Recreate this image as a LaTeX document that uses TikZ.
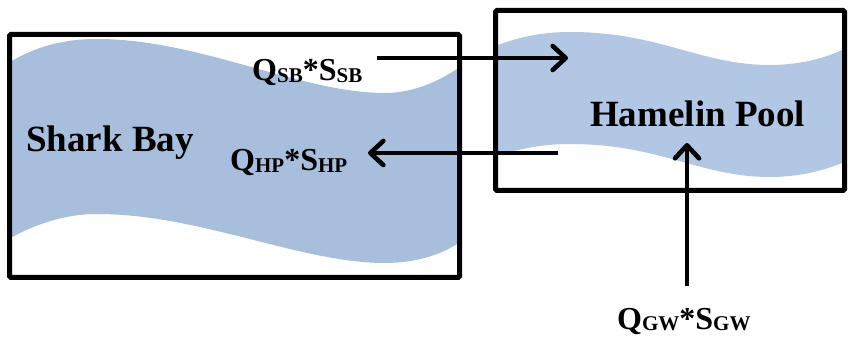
\documentclass[tikz,border=0pt]{standalone}
\usepackage{fontspec}
\setmainfont{Liberation Serif}
\usetikzlibrary{arrows.meta}
\definecolor{sbblue}{RGB}{167,191,221}
\definecolor{hpblue}{RGB}{177,199,227}
\newcommand{\lowsub}[1]{\raisebox{-1.5pt}{\fontsize{21}{21}\selectfont #1}}
\tikzset{
  basin/.style={draw=black, line width=5pt, rounded corners=1.5pt},
  flux/.style={draw=black, line width=4.6pt, -{Straight Barb[length=13pt,width=24pt,line width=4.6pt,round]}},
  lbl/.style={inner sep=0pt, anchor=base west, font=\bfseries\fontsize{37}{37}\selectfont},
  qlbl/.style={inner sep=0pt, anchor=base west, font=\bfseries\fontsize{32}{32}\selectfont}
}
\begin{document}
\begin{tikzpicture}[x=1pt,y=-1pt]
\useasboundingbox (0,0) rectangle (849,339);
% Shark Bay water
\fill[sbblue] (7,64) .. controls (35,46) and (65,39) .. (97,39)
  .. controls (200,39) and (300,93) .. (385,93)
  .. controls (415,93) and (440,80) .. (457,69)
  -- (457,244) .. controls (440,255) and (415,263) .. (385,263)
  .. controls (300,263) and (200,214) .. (97,214)
  .. controls (65,214) and (35,224) .. (7,240) -- cycle;
% Hamelin Pool water
\fill[hpblue] (493,47) .. controls (515,38) and (540,32) .. (570,32)
  .. controls (660,32) and (700,65) .. (770,65)
  .. controls (800,65) and (825,58) .. (842,50)
  -- (842,163) .. controls (825,170) and (800,177) .. (770,177)
  .. controls (700,177) and (660,144) .. (570,144)
  .. controls (540,144) and (515,150) .. (493,157) -- cycle;
% boxes
\node[basin, minimum width=450pt, minimum height=243pt, anchor=north west] (sb) at (7,32) {};
\node[basin, minimum width=349pt, minimum height=180pt, anchor=north west] (hp) at (493,8) {};
% labels
\node[lbl] (sbl) at (26,152) {Shark Bay};
\node[lbl] (hpl) at (590,127) {Hamelin Pool};
\node[qlbl] (qsb) at (252,81) {Q\lowsub{SB}*S\lowsub{SB}};
\node[qlbl] (qhp) at (230,171) {Q\lowsub{HP}*S\lowsub{HP}};
\node[qlbl] (qgw) at (617,329) {Q\lowsub{GW}*S\lowsub{GW}};
% arrow ends
\coordinate (a1s) at (377,58);
\coordinate (a1e) at (568,58);
\coordinate (a2s) at (558,153);
\coordinate (a2e) at (368,153);
\coordinate (a3s) at (687,286);
\coordinate (a3e) at (687,143);
\draw[flux] (a1s) -- (a1e);
\draw[flux] (a2s) -- (a2e);
\draw[flux] (a3s) -- (a3e);
\end{tikzpicture}
\end{document}
